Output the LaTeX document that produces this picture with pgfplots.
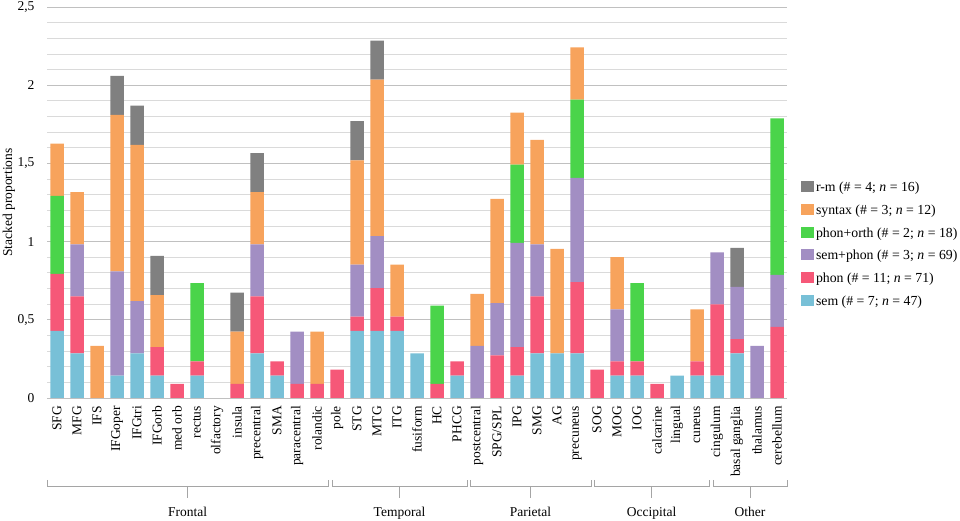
\documentclass[border=0pt]{standalone}
\usepackage{pgfplots}
\usepackage{pgfplotstable}
\pgfplotsset{compat=1.18}
\usepackage{fontspec}
\setmainfont{Liberation Serif}
\definecolor{csem}{RGB}{120,192,215}
\definecolor{cphon}{RGB}{246,88,120}
\definecolor{csp}{RGB}{162,142,195}
\definecolor{cpo}{RGB}{74,212,74}
\definecolor{csyn}{RGB}{247,163,92}
\definecolor{crm}{RGB}{128,128,128}
\definecolor{majg}{RGB}{192,192,192}
\definecolor{ming}{RGB}{218,218,218}
\definecolor{brk}{RGB}{165,165,165}
\pgfplotstableread{
x sem phon sp po syn rm
0 0.429 0.364 0 0.5 0.333 0
1 0.286 0.364 0.333 0 0.333 0
2 0 0 0 0 0.333 0
3 0.143 0 0.667 0 1.0 0.25
4 0.286 0 0.333 0 1.0 0.25
5 0.143 0.182 0 0 0.333 0.25
6 0 0.091 0 0 0 0
7 0.143 0.091 0 0.5 0 0
8 0 0 0 0 0 0
9 0 0.091 0 0 0.333 0.25
10 0.286 0.364 0.333 0 0.333 0.25
11 0.143 0.091 0 0 0 0
12 0 0.091 0.333 0 0 0
13 0 0.091 0 0 0.333 0
14 0 0.182 0 0 0 0
15 0.429 0.091 0.333 0 0.667 0.25
16 0.429 0.273 0.333 0 1.0 0.25
17 0.429 0.091 0 0 0.333 0
18 0.286 0 0 0 0 0
19 0 0.091 0 0.5 0 0
20 0.143 0.091 0 0 0 0
21 0 0 0.333 0 0.333 0
22 0 0.273 0.333 0 0.667 0
23 0.143 0.182 0.667 0.5 0.333 0
24 0.286 0.364 0.333 0 0.667 0
25 0.286 0 0 0 0.667 0
26 0.286 0.455 0.667 0.5 0.333 0
27 0 0.182 0 0 0 0
28 0.143 0.091 0.333 0 0.333 0
29 0.143 0.091 0 0.5 0 0
30 0 0.091 0 0 0 0
31 0.143 0 0 0 0 0
32 0.143 0.091 0 0 0.333 0
33 0.143 0.455 0.333 0 0 0
34 0.286 0.091 0.333 0 0 0.25
35 0 0 0.333 0 0 0
36 0 0.455 0.333 1.0 0 0
}\datatable
\newcommand{\fs}{\fontsize{13.5}{16}\selectfont}
\newcommand{\fl}{\fontsize{13.8}{16}\selectfont}
\begin{document}
\begin{tikzpicture}
\useasboundingbox (0,0) rectangle (960pt,521pt);
\begin{axis}[
  at={(47pt,123pt)}, anchor=south west,
  width=740pt, height=391pt, scale only axis,
  xmin=-0.5, xmax=36.5, ymin=0, ymax=2.5,
  ybar stacked, bar width=13.5pt,
  axis line style={draw=none},
  tick style={draw=none},
  major tick length=0pt, minor tick length=0pt,
  ytick={0,0.5,1,1.5,2,2.5},
  yticklabels={0,{0,5},1,{1,5},2,{2,5}},
  minor y tick num=4,
  ymajorgrids, yminorgrids,
  major grid style={draw=majg, line width=0.8pt},
  minor grid style={draw=ming, line width=0.8pt},
  yticklabel style={font=\fs, xshift=-9pt},
  xtick={0,...,36},
  xticklabels={SFG,MFG,IFS,IFGoper,IFGtri,IFGorb,med orb,rectus,olfactory,insula,precentral,SMA,paracentral,rolandic,pole,STG,MTG,ITG,fusiform,HC,PHCG,postcentral,SPG/SPL,IPG,SMG,AG,precuneus,SOG,MOG,IOG,calcarine,lingual,cuneus,cingulum,basal ganglia,thalamus,cerebellum},
  xticklabel style={font=\fs, rotate=90, anchor=east, xshift=-4.5pt},
  /pgf/number format/assume math mode=true,
  legend image code/.code={\fill[#1] (0pt,-0.5pt) rectangle (13pt,10.5pt);},
  reverse legend,
  legend style={at={(axis description cs:1.01892,0.5545)}, anchor=north west,
    draw=none, fill=none, inner sep=0pt, outer sep=0pt, row sep=8.7pt, column sep=2pt,
    cells={anchor=base west},
    nodes={inner sep=0pt, outer sep=0pt, text height=10pt, text depth=3.5pt, font=\fl}},
]
\addplot[fill=csem, draw=none] table[x=x, y=sem] {\datatable};
\addlegendentry{\fl sem (\# = 7; \textit{n} = 47)}
\addplot[fill=cphon, draw=none] table[x=x, y=phon] {\datatable};
\addlegendentry{\fl phon (\# = 11; \textit{n} = 71)}
\addplot[fill=csp, draw=none] table[x=x, y=sp] {\datatable};
\addlegendentry{\fl sem+phon (\# = 3; \textit{n} = 69)}
\addplot[fill=cpo, draw=none] table[x=x, y=po] {\datatable};
\addlegendentry{\fl phon+orth (\# = 2; \textit{n} = 18)}
\addplot[fill=csyn, draw=none] table[x=x, y=syn] {\datatable};
\addlegendentry{\fl syntax (\# = 3; \textit{n} = 12)}
\addplot[fill=crm, draw=none] table[x=x, y=rm] {\datatable};
\addlegendentry{\fl r-m (\# = 4; \textit{n} = 16)}
\end{axis}
\foreach \a/\b/\lab in {47/328/Frontal, 332/467/Temporal, 470/591/Parietal, 594/709/Occipital, 713/787/Other}{
  \draw[brk, line width=0.8pt] (\a pt,41pt) -- (\a pt,35pt) -- (\b pt,35pt) -- (\b pt,41pt);
  \pgfmathsetmacro{\c}{(\a+\b)/2}
  \draw[brk, line width=0.8pt] (\c pt,35pt) -- (\c pt,23pt);
  \node[font=\fs, anchor=base, inner sep=0pt] at (\c pt,4.3pt) {\lab};
}
\node[font=\fs, rotate=90, inner sep=0pt] at (9pt,318.5pt) {Stacked proportions};
\end{tikzpicture}
\end{document}
